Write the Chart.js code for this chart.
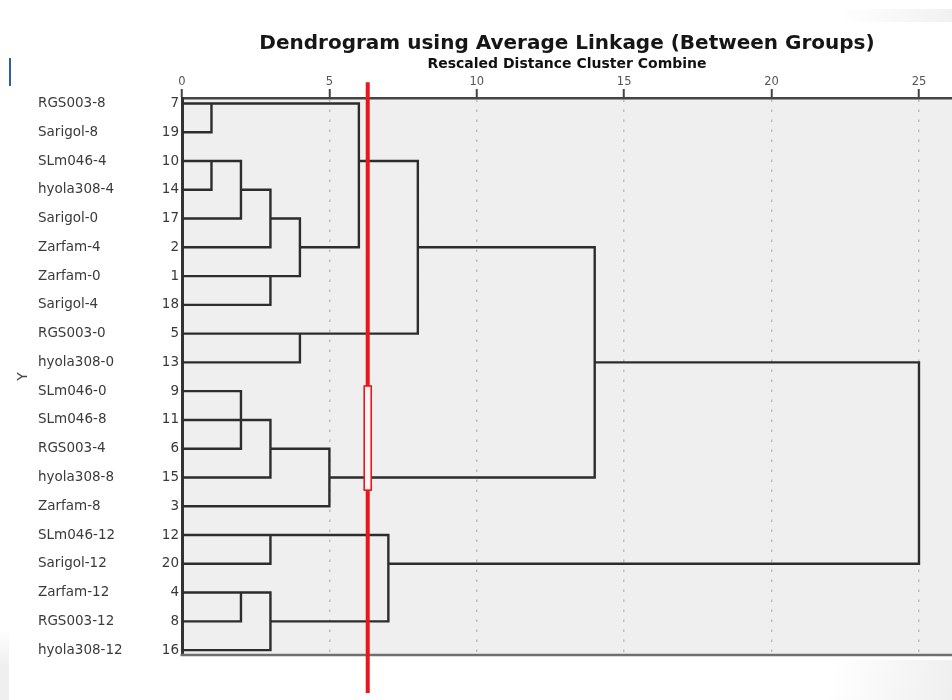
<!DOCTYPE html>
<html>
<head>
<meta charset="utf-8">
<title>Dendrogram using Average Linkage (Between Groups)</title>
<script src="https://cdn.jsdelivr.net/npm/chart.js@4.4.1/dist/chart.umd.min.js"></script>
<style>
html,body{margin:0;padding:0;background:#ffffff;}
#wrap{position:relative;width:952px;height:700px;overflow:hidden;background:#ffffff;}
#c{position:absolute;left:0;top:0;}
#accent{position:absolute;left:9px;top:58px;width:2px;height:28px;background:#2f5f9f;}
#shadeL{position:absolute;left:0;top:630px;width:9px;height:70px;background:linear-gradient(to bottom,rgba(238,238,238,0),#efefef 50%);}
#shadeR{position:absolute;left:800px;top:660px;width:152px;height:40px;background:linear-gradient(100deg,rgba(240,240,240,0) 20%,#efefef);}
#shadeT{position:absolute;left:840px;top:9px;width:112px;height:13px;background:linear-gradient(to right,rgba(243,243,243,0),#f1f1f1);}
</style>
</head>
<body>
<div id="wrap">
<div id="accent"></div><div id="shadeL"></div><div id="shadeR"></div><div id="shadeT"></div>
<canvas id="c" width="952" height="700"></canvas>
</div>
<script>
// ---- data ----
const chartTitle = 'Dendrogram using Average Linkage (Between Groups)';
const axisTitle = 'Rescaled Distance Cluster Combine';
const leafCases = [7, 19, 10, 14, 17, 2, 1, 18, 5, 13, 9, 11, 6, 15, 3, 12, 20, 4, 8, 16];
const leafNames = ['RGS003-8', 'Sarigol-8', 'SLm046-4', 'hyola308-4', 'Sarigol-0', 'Zarfam-4',
  'Zarfam-0', 'Sarigol-4', 'RGS003-0', 'hyola308-0', 'SLm046-0', 'SLm046-8', 'RGS003-4',
  'hyola308-8', 'Zarfam-8', 'SLm046-12', 'Sarigol-12', 'Zarfam-12', 'RGS003-12', 'hyola308-12'];
const distanceTicks = [0, 5, 10, 15, 20, 25];
// horizontal links: [case, from distance, to distance]
const horizontalLinks = [
  [7, 0, 6], [19, 0, 1], [10, 0, 2], [14, 0, 1], [14, 2, 3], [17, 0, 2], [17, 3, 4],
  [2, 0, 3], [2, 4, 6], [1, 0, 4], [18, 0, 3], [10, 6, 8], [5, 0, 8], [13, 0, 4],
  [2, 8, 14], [13, 14, 25], [9, 0, 2], [11, 0, 3], [6, 0, 2], [6, 3, 5], [15, 0, 3],
  [15, 5, 14], [3, 0, 5], [12, 0, 7], [20, 0, 3], [20, 7, 25], [4, 0, 3], [8, 0, 2],
  [8, 3, 7], [16, 0, 3]
];
// vertical links: [distance, case A, case B]
const verticalLinks = [
  [1, 7, 19], [1, 10, 14], [2, 10, 17], [3, 14, 2], [3, 1, 18], [4, 17, 1], [6, 7, 2],
  [4, 5, 13], [8, 10, 5], [14, 2, 15], [25, 13, 20], [2, 9, 6], [3, 11, 15], [5, 6, 3],
  [3, 12, 20], [2, 4, 8], [3, 4, 16], [7, 12, 8]
];
const cutDistance = 6.3;

// ---- build the chart ----
Chart.defaults.font.family = "'DejaVu Sans', sans-serif";
const rowOf = c => leafCases.indexOf(c);
const linkPoints = [];
horizontalLinks.forEach(([c, d1, d2]) => {
  const r = rowOf(c);
  linkPoints.push({x: d1, y: r}, {x: d2, y: r}, {x: d2, y: null});
});
verticalLinks.forEach(([d, a, b]) => {
  linkPoints.push({x: d, y: rowOf(a)}, {x: d, y: rowOf(b)}, {x: d, y: null});
});

const Y_MIN = -0.19, Y_MAX = 19.17, X_MAX = 26.12;
const rowTicks = s => { s.ticks = leafCases.map((_, i) => ({value: i})); };

const plotBg = {
  id: 'plotBg',
  beforeDraw(chart) {
    const {ctx, chartArea: a} = chart;
    ctx.save();
    ctx.fillStyle = '#efefef';
    ctx.fillRect(a.left, a.top, a.right - a.left, a.bottom - a.top);
    ctx.restore();
  },
  afterDatasetsDraw(chart) {
    const {ctx, chartArea: a} = chart;
    ctx.save();
    ctx.strokeStyle = '#707070';
    ctx.lineWidth = 2.4;
    ctx.beginPath();
    ctx.moveTo(a.left - 1.5, a.bottom);
    ctx.lineTo(a.right, a.bottom);
    ctx.stroke();
    ctx.restore();
  }
};

const cutLine = {
  id: 'cutLine',
  afterDatasetsDraw(chart, args, o) {
    const {ctx, scales: {x, y}} = chart;
    const px = x.getPixelForValue(cutDistance);
    const top = y.getPixelForValue(o.from), bot = y.getPixelForValue(o.to);
    const b1 = y.getPixelForValue(o.boxFrom), b2 = y.getPixelForValue(o.boxTo);
    const hw = o.boxHalfWidth;
    ctx.save();
    ctx.strokeStyle = o.color;
    ctx.lineWidth = o.width;
    ctx.beginPath();
    ctx.moveTo(px, top); ctx.lineTo(px, b1);
    ctx.moveTo(px, b2); ctx.lineTo(px, bot);
    ctx.stroke();
    ctx.fillStyle = o.boxFill;
    ctx.fillRect(px - hw, b1, 2 * hw, b2 - b1);
    ctx.lineWidth = o.boxLine;
    ctx.strokeRect(px - hw, b1, 2 * hw, b2 - b1);
    ctx.restore();
  }
};

new Chart(document.getElementById('c'), {
  type: 'line',
  data: {
    datasets: [{
      data: linkPoints,
      borderColor: '#2d2d2d',
      borderWidth: 2.4,
      borderCapStyle: 'square',
      borderJoinStyle: 'miter',
      pointRadius: 0,
      pointHoverRadius: 0,
      tension: 0,
      spanGaps: false,
      fill: false
    }]
  },
  options: {
    responsive: false,
    animation: false,
    devicePixelRatio: 1,
    events: [],
    layout: {padding: {left: 0, right: 0, top: 0, bottom: 45}},
    plugins: {
      legend: {display: false},
      tooltip: {enabled: false},
      title: {
        display: true, text: chartTitle, fullSize: false, color: '#161616',
        font: {size: 20, weight: 'bold'}, padding: {top: 32, bottom: 0}
      },
      cutLine: {
        from: -0.74, to: 20.49, boxFrom: 9.82, boxTo: 13.44,
        color: '#e8161d', width: 4, boxHalfWidth: 3.5, boxFill: '#f7f7f7', boxLine: 1.6
      }
    },
    scales: {
      x: {
        type: 'linear', position: 'top', min: 0, max: X_MAX,
        afterBuildTicks: s => { s.ticks = distanceTicks.map(v => ({value: v})); },
        afterFit: s => { s.height = 42; },
        ticks: {color: '#555', font: {size: 11.5}, padding: 0, maxRotation: 0, autoSkip: false,
          callback: v => String(v)},
        grid: {
          color: c => (c.tick && c.tick.value === 0) ? 'rgba(0,0,0,0)' : '#bdbdbd',
          lineWidth: 1.5, tickLength: 9, tickColor: '#444', tickWidth: 2, drawTicks: true
        },
        border: {display: true, color: '#454545', width: 2.5, dash: [2.5, 7.5]},
        title: {display: true, text: axisTitle, color: '#111',
          font: {size: 14, weight: 'bold'}, padding: {top: 0, bottom: 0}}
      },
      y: {
        type: 'linear', position: 'left', weight: 1, reverse: true, min: Y_MIN, max: Y_MAX,
        afterBuildTicks: rowTicks,
        afterFit: s => { s.width = 25; },
        ticks: {callback: v => String(leafCases[v]), crossAlign: 'near', padding: 3,
          color: '#3a3a3a', font: {size: 13.5}, autoSkip: false},
        grid: {display: false, drawTicks: false},
        border: {display: true, color: '#333', width: 3}
      },
      yName: {
        type: 'linear', position: 'left', weight: 2, reverse: true, min: Y_MIN, max: Y_MAX,
        afterBuildTicks: rowTicks,
        afterFit: s => { s.width = 119; },
        ticks: {callback: v => leafNames[v], crossAlign: 'far', padding: 0,
          color: '#3a3a3a', font: {size: 13.5}, autoSkip: false},
        grid: {display: false, drawTicks: false},
        border: {display: false}
      },
      yTitle: {
        type: 'linear', position: 'left', weight: 3, reverse: true, min: Y_MIN, max: Y_MAX,
        afterFit: s => { s.width = 38; },
        ticks: {display: false},
        grid: {display: false, drawTicks: false},
        border: {display: false},
        title: {display: true, text: 'Y', color: '#444', font: {size: 14},
          padding: {top: 14.6, bottom: 0}}
      }
    }
  },
  plugins: [plotBg, cutLine]
});
</script>
</body>
</html>
